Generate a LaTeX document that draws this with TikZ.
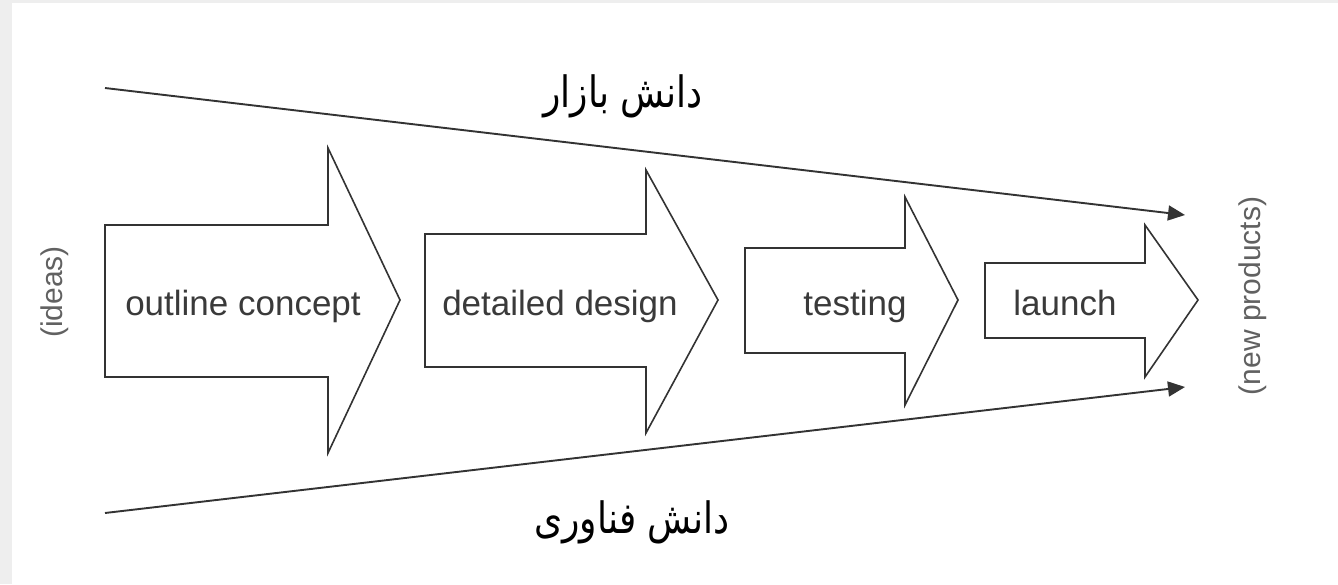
\documentclass[tikz,border=0pt]{standalone}
\usepackage{fontspec}
\setmainfont{Liberation Sans}
\newfontfamily\arabicfont[Script=Arabic]{DejaVu Sans}
\TeXXeTstate=1
\usetikzlibrary{arrows.meta}
\definecolor{ink}{HTML}{333333}
\definecolor{txt}{HTML}{3A3A3A}
\definecolor{pale}{HTML}{EEEEEE}
\begin{document}
\begin{tikzpicture}[x=1pt,y=-1pt,
  stage/.style={draw=ink,line width=1.6pt,line join=miter,fill=white},
  stagetext/.style={text=txt,font=\fontsize{35}{40}\selectfont,anchor=base,inner sep=0pt},
  sidetext/.style={text=txt!80,font=\fontsize{30}{34}\selectfont,rotate=90,inner sep=0pt},
  fatext/.style={text=black,font=\arabicfont\fontsize{36}{42}\selectfont,inner sep=0pt,yscale=1.2},
  flow/.style={draw=ink,line width=1.9pt,-{Triangle[length=17pt,width=15pt]}}]
\useasboundingbox (0,0) rectangle (1338,584);
\fill[pale] (0,0) rectangle (1338,584);
\fill[white] (12,3) rectangle (1338,584);
% stage arrows
\draw[stage] (105,225) -- (328,225) -- (328,148) -- (400,300) -- (328,453) -- (328,377) -- (105,377) -- cycle;
\draw[stage] (425,234) -- (646,234) -- (646,170) -- (718,300) -- (646,433) -- (646,367) -- (425,367) -- cycle;
\draw[stage] (745,248) -- (905,248) -- (905,197) -- (958,300) -- (905,405) -- (905,353) -- (745,353) -- cycle;
\draw[stage] (985,263) -- (1145,263) -- (1145,225) -- (1198,300) -- (1145,377) -- (1145,338) -- (985,338) -- cycle;
\node[stagetext] (t1) at (243,315) {outline concept};
\node[stagetext] (t2) at (560,315) {detailed design};
\node[stagetext] (t3) at (855,315) {testing};
\node[stagetext] (t4) at (1065,315) {launch};
% side labels
\node[sidetext] (ideas) at (55,292) {(ideas)};
\node[sidetext] (newp) at (1253,296) {(new products)};
% knowledge flows
\coordinate (mA) at (105,88);
\coordinate (mB) at (1185,215);
\coordinate (tA) at (105,513);
\coordinate (tB) at (1185,387);
\draw[flow] (mA) -- (mB);
\draw[flow] (tA) -- (tB);
\node[fatext] (market) at (623,96) {\beginR دانش بازار\endR};
\node[fatext] (tech) at (632,522) {\beginR دانش فناوری\endR};
\end{tikzpicture}
\end{document}
